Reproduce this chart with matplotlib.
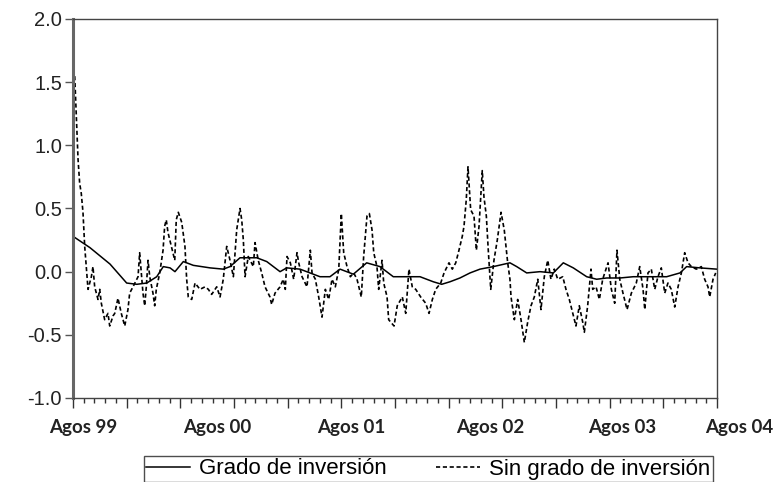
import matplotlib
matplotlib.use("Agg")
import matplotlib.pyplot as plt
from matplotlib.lines import Line2D
import matplotlib.transforms as mtransforms

# ---- data (months since Aug 1999) ----
sin_months = [0.0, 0.16, 0.31, 0.47, 0.62, 0.77, 0.93, 1.09, 1.24, 1.40, 1.71, 1.86, 2.02, 2.33, 2.49,
              2.64, 2.95, 3.26, 3.42, 3.73, 3.89, 4.19, 4.50, 4.82, 5.12, 5.28, 5.59, 6.06, 6.21, 6.36,
              6.52, 6.68, 6.83, 6.99, 7.15, 7.45, 7.61, 7.76, 8.08, 8.39, 8.54, 8.69, 8.85, 9.16, 9.48,
              9.62, 9.81, 10.13, 10.43, 10.59, 10.74, 11.06, 11.37, 11.83, 12.30, 12.61, 12.92, 13.39,
              13.70, 14.00, 14.32, 14.63, 14.94, 15.25, 15.56, 15.72, 15.87, 16.03, 16.33, 16.80, 16.96,
              17.26, 17.58, 17.89, 18.35, 18.51, 18.82, 19.29, 19.59, 19.78, 19.94, 20.25, 20.56, 20.87,
              21.03, 21.34, 21.80, 22.11, 22.27, 22.58, 22.89, 23.20, 23.51, 23.82, 24.13, 24.44, 24.76,
              25.00, 25.22, 25.53, 25.84, 26.15, 26.46, 26.86, 27.08, 27.39, 27.61, 27.86, 28.02, 28.32,
              28.48, 28.79, 28.95, 29.26, 29.41, 29.91, 30.21, 30.68, 31.00, 31.30, 31.61, 31.93, 32.39,
              32.86, 33.17, 33.48, 33.79, 34.26, 34.57, 35.03, 35.34, 35.66, 35.96, 36.27, 36.43, 36.64,
              36.80, 37.05, 37.36, 37.58, 37.83, 38.13, 38.29, 38.51, 38.69, 38.92, 39.22, 39.53, 39.88,
              40.18, 40.50, 40.71, 40.81, 41.12, 41.43, 41.74, 42.05, 42.36, 42.67, 42.98, 43.30, 43.60,
              43.91, 44.23, 44.53, 44.84, 45.16, 45.63, 45.93, 46.24, 46.56, 46.86, 47.17, 47.49, 47.64,
              47.95, 48.26, 48.42, 48.73, 49.04, 49.35, 49.54, 49.85, 50.16, 50.47, 50.68, 50.94, 51.24,
              51.62, 52.02, 52.48, 52.80, 53.11, 53.27, 53.57, 53.88, 54.20, 54.50, 54.81, 55.13, 55.43,
              55.74, 56.06, 56.37, 56.68, 56.99, 57.30, 57.61, 58.07, 58.54, 58.85, 59.16, 59.32, 59.63,
              59.88]
sin_values = [1.60, 1.55, 1.23, 0.89, 0.70, 0.62, 0.47, 0.20, 0.04, -0.14, -0.04, 0.04, -0.12, -0.22, -0.14,
              -0.25, -0.38, -0.33, -0.43, -0.35, -0.33, -0.21, -0.33, -0.43, -0.30, -0.17, -0.12, -0.04, 0.15, -0.01,
              -0.17, -0.27, -0.12, 0.09, -0.04, -0.17, -0.27, -0.14, -0.01, 0.17, 0.36, 0.41, 0.31, 0.20, 0.09,
              0.41, 0.47, 0.39, 0.20, -0.06, -0.20, -0.22, -0.09, -0.14, -0.12, -0.14, -0.18, -0.12,
              -0.20, -0.06, 0.20, 0.09, -0.04, 0.33, 0.50, 0.41, 0.25, -0.04, 0.12, 0.04, 0.23,
              0.09, -0.01, -0.12, -0.20, -0.26, -0.17, -0.12, -0.06, -0.14, 0.12, 0.07, -0.06, 0.15,
              0.07, -0.04, -0.12, 0.17, -0.01, -0.06, -0.20, -0.36, -0.14, -0.22, -0.06, -0.12, 0.02,
              0.46, 0.15, 0.04, -0.04, -0.01, -0.06, -0.20, 0.12, 0.44, 0.46, 0.33, 0.15, 0.04,
              -0.14, 0.09, -0.09, -0.20, -0.38, -0.43, -0.27, -0.20, -0.33, 0.02, -0.12, -0.14, -0.20,
              -0.25, -0.33, -0.22, -0.14, -0.09, -0.01, 0.07, 0.02, 0.07, 0.17, 0.28, 0.36, 0.57,
              0.83, 0.49, 0.44, 0.17, 0.36, 0.80, 0.59, 0.44, 0.17, -0.14, 0.09, 0.25, 0.47,
              0.33, 0.07, -0.06, -0.20, -0.38, -0.22, -0.38, -0.56, -0.40, -0.27, -0.20, -0.06, -0.30,
              -0.04, 0.09, -0.06, 0.02, -0.06, -0.04, -0.14, -0.22, -0.33, -0.43, -0.27, -0.40, -0.48,
              -0.27, 0.02, -0.14, -0.12, -0.22, -0.06, -0.01, 0.07, -0.14, -0.25, 0.17, -0.06, -0.17,
              -0.30, -0.17, -0.09, 0.04, -0.14, -0.30, -0.01, 0.02, -0.14, -0.04, 0.03, -0.17, -0.09,
              -0.14, -0.28, -0.12, -0.01, 0.15, 0.07, 0.04, 0.02, 0.04, -0.06, -0.12, -0.20, -0.06,
              -0.01]

grado_months = [0.0, 1.58, 3.45, 5.0, 5.94, 6.87, 7.80, 8.41, 9.04, 9.50, 10.28, 11.21, 12.77, 14.0, 14.63,
                15.56, 17.12, 18.05, 19.29, 19.91, 21.15, 22.08, 23.01, 23.94, 24.88, 26.12, 27.36, 28.60,
                29.84, 31.09, 32.33, 33.57, 34.35, 35.12, 36.05, 36.99, 37.92, 39.16, 40.71, 41.34, 42.27,
                43.51, 44.75, 45.68, 46.61, 47.86, 48.79, 49.72, 50.96, 52.20, 53.45, 55.31, 56.55, 57.17,
                58.41, 59.97]
grado_values = [0.28, 0.19, 0.06, -0.09, -0.10, -0.09, -0.04, 0.04, 0.03, 0.0, 0.08, 0.05, 0.03, 0.02, 0.04,
                0.11, 0.11, 0.08, 0.0, 0.03, 0.02, -0.01, -0.04, -0.04, 0.02, -0.02, 0.07, 0.04,
                -0.04, -0.04, -0.04, -0.08, -0.10, -0.08, -0.05, -0.01, 0.02, 0.04, 0.07, 0.04, -0.01,
                0.0, -0.01, 0.07, 0.03, -0.04, -0.06, -0.05, -0.05, -0.04, -0.04, -0.04, -0.01, 0.04,
                0.03, 0.02]

label_months = [1.0, 13.4, 25.9, 38.9, 51.2, 62.1]
label_texts = ["Agos 99", "Agos 00", "Agos 01", "Agos 02", "Agos 03", "Agos 04"]
y_ticks = [-1.0, -0.5, 0.0, 0.5, 1.0, 1.5, 2.0]

fig = plt.figure(figsize=(7.82, 4.82), dpi=100)
ax = fig.add_axes([73/782, 1-398/482, (717-73)/782, (398-19)/482])

ax.plot(grado_months, grado_values, color="black", lw=1.1, solid_joinstyle="round")
ax.plot(sin_months, sin_values, color="black", lw=1.2, linestyle=(0, (2.5, 1.6)))

ax.set_xlim(0, 60)
ax.set_ylim(-1.0, 2.0)
ax.set_yticks(y_ticks)
ax.set_yticklabels([f"{v:.1f}" for v in y_ticks], fontfamily="Liberation Sans", fontsize=14.5, color="#222222")
ax.tick_params(axis="y", direction="out", length=6, width=1, pad=2, color="#555555")

ax.set_xticks(list(range(0, 61, 5)))
ax.set_xticks(list(range(0, 61, 1)), minor=True)
ax.set_xticklabels([])
ax.tick_params(axis="x", which="major", direction="out", length=7, width=1, color="#333333")
ax.tick_params(axis="x", which="minor", direction="out", length=3.5, width=1, color="#333333")

trans = mtransforms.blended_transform_factory(ax.transData, fig.transFigure)
for m, t in zip(label_months, label_texts):
    ax.text(m, 1-427/482, t, transform=trans, ha="center", va="center", clip_on=False,
            fontfamily="Lato", fontweight="bold", fontsize=13.5, color="#222222")

for s in ["top", "right", "bottom"]:
    ax.spines[s].set_color("#444444")
    ax.spines[s].set_linewidth(1.0)
ax.spines["left"].set_color("#666666")
ax.spines["left"].set_linewidth(2.2)

handles = [Line2D([], [], color="black", lw=1.1),
           Line2D([], [], color="black", lw=1.2, linestyle=(0, (2.5, 1.6)))]
leg = fig.legend(handles, ["Grado de inversión", "Sin grado de inversión"],
                 loc="center", bbox_to_anchor=(428/782, 1-469/482), ncol=2,
                 prop={"family": "Liberation Sans", "size": 16}, frameon=True, fancybox=False,
                 edgecolor="#222222", handlelength=2.0, handletextpad=0.4, columnspacing=2.2,
                 borderpad=0.1, borderaxespad=0)
leg.get_frame().set_linewidth(1.0)

fig.savefig("out.png", dpi=100)
